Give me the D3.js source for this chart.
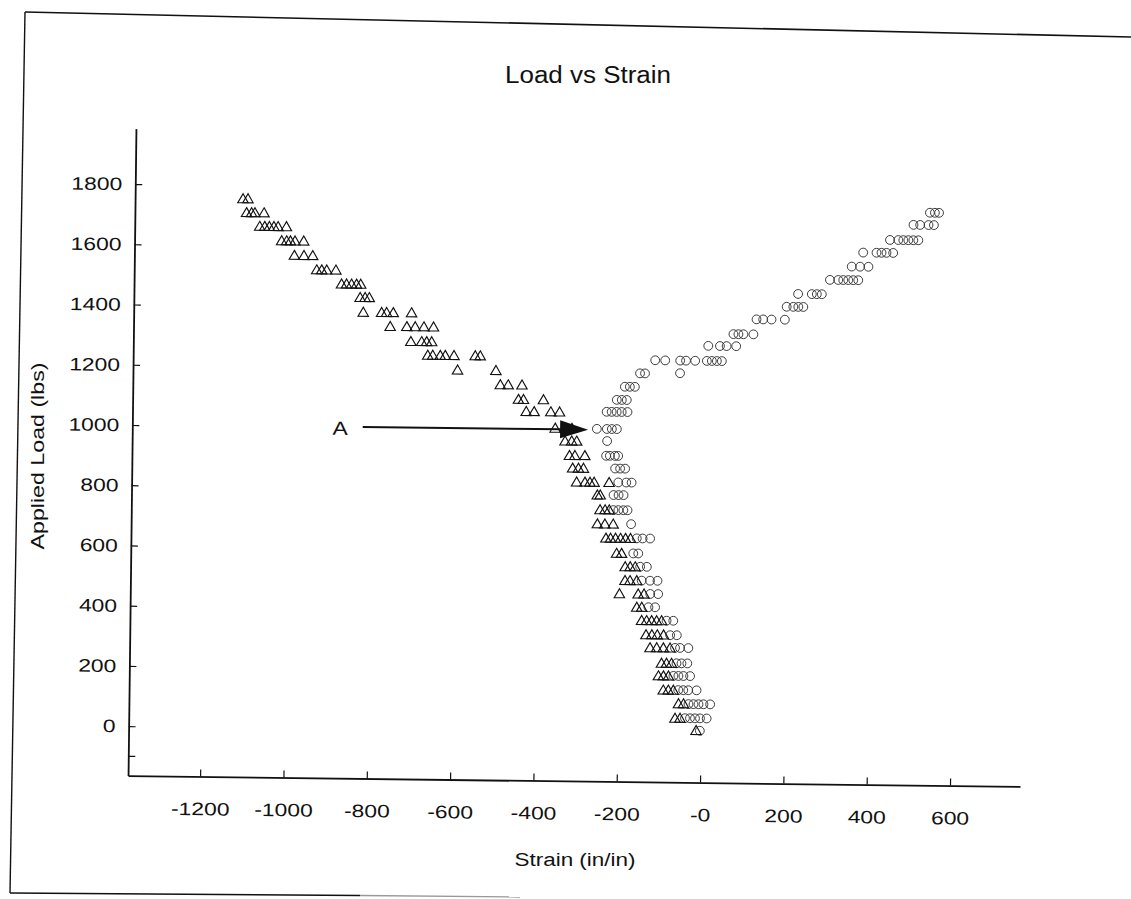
<!DOCTYPE html>
<html><head><meta charset="utf-8">
<script src="https://cdn.jsdelivr.net/npm/d3@7"></script>
<style>
html,body{margin:0;padding:0;background:#fff;}
svg{display:block;}
text{font-family:"Liberation Sans",Arial,sans-serif;fill:#111;}
</style></head>
<body>
<svg id="chart" width="1131" height="899"></svg>
<script>
// ---- data (strain in/in x1e-6, load lbs) ----
const xTicks = [-1200,-1000,-800,-600,-400,-200,0,200,400,600];
const xTickLabels = ["-1200","-1000","-800","-600","-400","-200","-0","200","400","600"];
const yTicks = [0,200,400,600,800,1000,1200,1400,1600,1800];
const yTickLabels = ["0","200","400","600","800","1000","1200","1400","1600","1800"];

// triangles: one load per row, several strain readings per row
const triLoad = [1755,1709,1664,1617,1569,1522,1476,1432,1383,1337,1288,1243,1195,1148,1100,1060,1006,964,916,874,828,786,737,690,643,593,549,503,459,415,371,324,281,230,188,141,96,48,8];
const triStrain = [
  [-1114,-1102],
  [-1105,-1093,-1085,-1063],
  [-1073,-1061,-1050,-1039,-1029,-1009],
  [-1020,-1008,-999,-988,-967],
  [-989,-966,-945],
  [-935,-923,-911,-889],
  [-875,-863,-851,-839,-829],
  [-830,-818,-808],
  [-822,-778,-766,-750,-706],
  [-757,-717,-697,-676,-653],
  [-707,-681,-669,-657],
  [-666,-654,-636,-624,-603,-552,-540],
  [-594,-502],
  [-491,-472,-439],
  [-447,-435,-387],
  [-428,-409,-369,-348],
  [-358,-334,-318],
  [-334,-318,-306],
  [-323,-310,-286],
  [-315,-301,-289],
  [-305,-285,-273,-263,-227],
  [-255,-248],
  [-248,-236,-226],
  [-254,-236,-216],
  [-233,-222,-210,-198,-186,-174],
  [-207,-195],
  [-186,-174,-162],
  [-186,-174,-158],
  [-199,-154,-140],
  [-157,-145],
  [-145,-133,-121,-109,-97],
  [-134,-120,-107,-92],
  [-124,-108,-92,-76],
  [-96,-84,-72],
  [-103,-91,-79],
  [-91,-79,-67],
  [-54,-42],
  [-62,-50],
  [-11]
];

// circles
const circLoad = [1737,1696,1645,1602,1555,1510,1462,1419,1376,1326,1286,1236,1194,1192,1147,1103,1063,1006,966,917,875,829,787,737,691,644,594,550,504,460,416,372,324,282,231,189,142,96,49,8];
const circStrain = [
  [535,547,557],
  [496,512,532,545],
  [440,460,472,484,496,508],
  [376,408,420,432,448],
  [349,369,389],
  [297,317,329,341,353,365],
  [221,254,266,278],
  [194,210,222,234],
  [122,138,158,190],
  [67,79,91,115],
  [7,35,51,74],
  [-120,-96,-60,-46,-24,4,16,28,40],
  [-60],
  [-156,-144],
  [-192,-180,-168],
  [-211,-199,-187],
  [-235,-223,-211,-199,-185],
  [-258,-234,-222,-210],
  [-233],
  [-235,-226,-214,-206],
  [-213,-201,-189],
  [-205,-186,-173],
  [-216,-204,-192],
  [-216,-204,-192,-182],
  [-173],
  [-159,-145,-127],
  [-167,-155],
  [-150,-134],
  [-146,-126,-108],
  [-125,-106],
  [-129,-113],
  [-85,-69],
  [-76,-60],
  [-64,-52,-32],
  [-60,-48,-34],
  [-67,-55,-43,-27],
  [-55,-43,-31,-11],
  [-30,-18,-6,6,22],
  [-38,-26,-14,-2,14],
  [-2]
];

const arrowFrom = [-820, 1003];
const arrowTo = [-279, 1003];
const labelA = [-874, 998];

// ---- drawing ----
const svg = d3.select("#chart");
const STRETCH = 1.27;
function stretch(sel, f){
  sel.each(function(){
    const n = this; const L = n.getComputedTextLength();
    if (L>0){ d3.select(n).attr("textLength", L*(f||STRETCH)).attr("lengthAdjust","spacingAndGlyphs"); }
  });
}

// page frame (scanned sheet edges)
svg.append("line").attr("x1",25).attr("y1",12).attr("x2",1131).attr("y2",37).attr("stroke","#111").attr("stroke-width",1.6);
svg.append("line").attr("x1",25).attr("y1",12).attr("x2",10).attr("y2",893).attr("stroke","#111").attr("stroke-width",1.4);
svg.append("line").attr("x1",10).attr("y1",893).attr("x2",360).attr("y2",895.5).attr("stroke","#111").attr("stroke-width",1.6);
svg.append("line").attr("x1",360).attr("y1",895.5).attr("x2",520).attr("y2",897).attr("stroke","#999").attr("stroke-width",1.4);

const x = d3.scaleLinear().domain([-1373, 768]).range([132, 1024]);
const y = d3.scaleLinear().domain([-164, 1984]).range([781, 134]);

const g = svg.append("g").attr("transform","rotate(0.7,575,455)");

// axes
const xAxis = d3.axisBottom(x).tickValues(xTicks).tickFormat((d,i)=>xTickLabels[i]).tickSize(-7).tickPadding(26).tickSizeOuter(0);
const gx = g.append("g").attr("transform",`translate(0,${y(-164)})`).call(xAxis);
const yAxis = d3.axisLeft(y).tickValues(yTicks).tickFormat((d,i)=>yTickLabels[i]).tickSize(-7).tickPadding(13).tickSizeOuter(0);
const gy = g.append("g").attr("transform",`translate(${x(-1373)},0)`).call(yAxis);
[gx,gy].forEach(a=>{
  a.select(".domain").attr("stroke","#111").attr("stroke-width",1.8);
  a.selectAll(".tick line").attr("stroke","#111").attr("stroke-width",1.2);
  a.selectAll(".tick text").attr("font-size",18).attr("fill","#111").style("font-family",'"Liberation Sans",Arial,sans-serif');
});
gx.selectAll(".tick text").call(stretch);
gy.selectAll(".tick text").call(stretch);
// small unlabeled tick below zero
g.append("line").attr("x1",x(-1373)).attr("x2",x(-1373)+7).attr("y1",y(-100)).attr("y2",y(-100)).attr("stroke","#111").attr("stroke-width",1.2);

// series
const triPts = [], circPts = [];
triLoad.forEach((L,i)=>triStrain[i].forEach(s=>triPts.push([s,L])));
circLoad.forEach((L,i)=>circStrain[i].forEach(s=>circPts.push([s,L])));

g.append("g").selectAll("circle").data(circPts).join("circle")
  .attr("cx",d=>x(d[0])).attr("cy",d=>y(d[1])).attr("r",4.4)
  .attr("fill","none").attr("stroke","#333").attr("stroke-width",0.95);

g.append("g").selectAll("path").data(triPts).join("path")
  .attr("transform",d=>`translate(${x(d[0])},${y(d[1])})`)
  .attr("d","M0,-5.2L5.2,3.8L-5.2,3.8Z")
  .attr("fill","none").attr("stroke","#111").attr("stroke-width",1.15);

// annotation arrow
const ax0 = x(arrowFrom[0]), ay0 = y(arrowFrom[1]), ax1 = x(arrowTo[0]), ay1 = y(arrowTo[1]);
g.append("line").attr("x1",ax0).attr("y1",ay0).attr("x2",ax1-26).attr("y2",ay1).attr("stroke","#111").attr("stroke-width",2);
g.append("path").attr("d",`M${ax1},${ay1}L${ax1-28},${ay1-9}L${ax1-28},${ay1+9}Z`).attr("fill","#111");
const tA = g.append("text").attr("x",x(labelA[0])).attr("y",y(labelA[1])).attr("dy","0.35em")
  .attr("text-anchor","middle").attr("font-size",19).text("A");
stretch(tA, 1.2);

// titles
const title = svg.append("text").attr("x",588).attr("y",83).attr("text-anchor","middle").attr("font-size",23).text("Load vs Strain");
title.attr("textLength",166).attr("lengthAdjust","spacingAndGlyphs");
const xl = svg.append("text").attr("x",575).attr("y",866).attr("text-anchor","middle").attr("font-size",18).text("Strain (in/in)");
xl.attr("textLength",121).attr("lengthAdjust","spacingAndGlyphs");
const yl = svg.append("text").attr("transform","translate(44,456) rotate(-90)").attr("text-anchor","middle").attr("font-size",18).text("Applied Load (lbs)");
yl.attr("textLength",187).attr("lengthAdjust","spacingAndGlyphs");
</script>
</body></html>
